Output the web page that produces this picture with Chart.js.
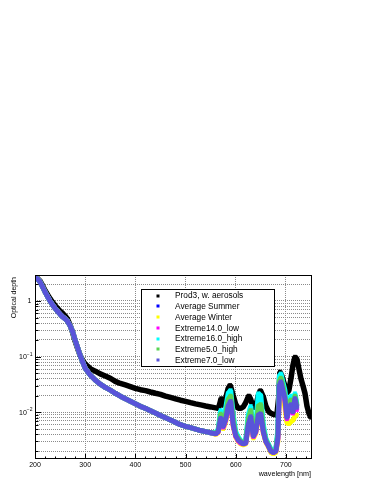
<!DOCTYPE html>
<html>
<head>
<meta charset="utf-8">
<script src="https://cdn.jsdelivr.net/npm/chart.js@4.4.0/dist/chart.umd.min.js"></script>
<style>
  html, body { margin: 0; padding: 0; background: #fff; }
  canvas { display: block; }
</style>
</head>
<body>
<canvas id="chart" width="374" height="484"></canvas>
<script>
// Optical depth vs wavelength

// smooth part, shared wavelength grid (nm)
const wlSmooth = [200,205,210,215,220,225,230,235,240,245,250,255,260,265,270,275,280,285,290,295,300,
  310,320,330,340,350,360,370,380,390,400,410,420,430,440,450,460,470,480,490,500,510,520,530,540,550];

// Prod3 with aerosols
const prodSmooth = [2.7,2.55,2.3,1.9,1.55,1.3,1.1,0.95,0.83,0.74,0.66,0.6,0.54,0.47,0.37,0.27,0.19,0.14,0.105,0.085,0.074,
  0.061,0.055,0.049,0.045,0.041,0.036,0.033,0.031,0.029,0.027,0.0255,0.0245,0.0232,0.022,0.021,0.0195,0.0185,0.0175,0.0165,0.0157,0.0149,0.0142,0.0136,0.013,0.0125];
const wlProdBand = [560,565,568,571,575,580,585,589,595,600,605,610,615,620,626,630,635,640,645,649,655,660,665,670,675,
  682,686,688,692,697,702,706,710,714,718,722,726,730,734,738,742,746,750];
const prodBand = [0.012,0.0118,0.014,0.018,0.013,0.018,0.027,0.031,0.02,0.014,0.0118,0.0118,0.0125,0.015,0.02,0.017,0.012,0.013,0.02,0.025,0.019,0.013,0.0105,0.0096,0.0092,
  0.0089,0.02,0.054,0.045,0.032,0.022,0.025,0.04,0.07,0.1,0.09,0.06,0.04,0.03,0.022,0.013,0.0095,0.008];

// atmosphere models (no aerosols) - they overlap below 560 nm
const atmSmooth = [2.6,2.5,2.2,1.8,1.45,1.2,1.0,0.85,0.74,0.65,0.58,0.52,0.48,0.43,0.36,0.28,0.2,0.145,0.105,0.08,0.062,
  0.047,0.038,0.032,0.028,0.025,0.022,0.0195,0.0175,0.0158,0.0142,0.0128,0.0118,0.0107,0.0097,0.0088,0.008,0.0073,0.0066,0.006,0.0056,0.0053,0.005,0.0047,0.0045,0.0043];

// absorption band region
const wlBand = [560,565,570,575,580,585,590,595,600,605,610,615,620,625,630,635,640,645,650,655,660,665,670,675,680,684,687,690,694,698,702,706,710,714,718,722];
const bandSummer = [0.0042,0.0046,0.0088,0.006,0.0085,0.015,0.018,0.007,0.004,0.0033,0.003,0.0028,0.0029,0.007,0.01,0.004,0.005,0.011,0.012,0.0048,0.0031,0.0026,0.0021,0.002,0.0021,0.004,0.034,0.04,0.028,0.019,0.009,0.013,0.016,0.011,0.019,0.013];
const bandWinter = [0.004,0.0043,0.007,0.005,0.0068,0.011,0.014,0.0055,0.0036,0.003,0.0027,0.0026,0.0027,0.0055,0.0075,0.0034,0.0042,0.0075,0.0085,0.0042,0.0029,0.0024,0.0019,0.0018,0.0019,0.003,0.022,0.028,0.02,0.012,0.0065,0.0062,0.0068,0.0072,0.0085,0.009];
const band14low = [0.0041,0.0044,0.0075,0.0053,0.0072,0.012,0.015,0.0058,0.0037,0.0031,0.0028,0.0027,0.0028,0.0058,0.008,0.0036,0.0044,0.0085,0.009,0.0044,0.003,0.0025,0.002,0.0019,0.002,0.0033,0.027,0.033,0.023,0.016,0.0075,0.011,0.012,0.0095,0.016,0.011];
const band16high = [0.0043,0.005,0.011,0.0075,0.012,0.022,0.025,0.009,0.0045,0.0036,0.0031,0.0029,0.0032,0.009,0.013,0.0045,0.006,0.022,0.02,0.006,0.0034,0.0027,0.0022,0.002,0.0022,0.005,0.045,0.05,0.035,0.025,0.012,0.016,0.02,0.013,0.022,0.014];
const band5high = [0.0042,0.0047,0.0095,0.0062,0.0095,0.017,0.02,0.0075,0.0041,0.0034,0.003,0.0028,0.003,0.0075,0.011,0.0041,0.0052,0.013,0.014,0.005,0.0032,0.0026,0.0021,0.002,0.0021,0.0042,0.036,0.042,0.03,0.02,0.01,0.014,0.017,0.012,0.02,0.013];
const band7low = [0.0041,0.0045,0.008,0.0055,0.0075,0.013,0.016,0.006,0.0038,0.0032,0.0029,0.0027,0.0028,0.006,0.0085,0.0037,0.0045,0.009,0.0095,0.0045,0.003,0.0025,0.002,0.0019,0.002,0.0035,0.03,0.036,0.025,0.018,0.008,0.012,0.014,0.01,0.018,0.012];

const labels = ['Prod3, w. aerosols','Average Summer','Average Winter','Extreme14.0_low','Extreme16.0_high','Extreme5.0_high','Extreme7.0_low'];
const colors = ['#000000','#0000ff','#ffff00','#ff00ff','#00ffff','#59d454','#5954d9'];

// axis
const xMin = 200, xMax = 752;
const yMin = 0.00145, yMax = 2.93;
const xLabels = [200,300,400,500,600,700];
const yMajor = [0.01, 0.1, 1];

function pts(xs, ys) {
  return xs.map((x, i) => ({ x: x, y: ys[i] }));
}

const seriesData = [
  pts(wlSmooth.concat(wlProdBand), prodSmooth.concat(prodBand)),
  pts(wlSmooth.concat(wlBand), atmSmooth.concat(bandSummer)),
  pts(wlSmooth.concat(wlBand), atmSmooth.concat(bandWinter)),
  pts(wlSmooth.concat(wlBand), atmSmooth.concat(band14low)),
  pts(wlSmooth.concat(wlBand), atmSmooth.concat(band16high)),
  pts(wlSmooth.concat(wlBand), atmSmooth.concat(band5high)),
  pts(wlSmooth.concat(wlBand), atmSmooth.concat(band7low)),
];

// log minor positions (for grid + ticks)
const yMinor = [];
[0.001, 0.01, 0.1, 1].forEach(d => {
  for (let k = 1; k <= 9; k++) {
    const v = d * k;
    if (v > yMin && v < yMax) yMinor.push(v);
  }
});

const FONT = '"Liberation Sans", Arial, sans-serif';

// ROOT-like frame, inner ticks, labels, legend
const rootDecor = {
  id: 'rootDecor',
  afterDatasetsDraw(chart) {
    const { ctx, chartArea: a, scales: { x, y } } = chart;
    ctx.save();

    // legend box
    const lx = 141, ly = 289, lw = 133, lh = 77;
    ctx.fillStyle = '#fff';
    ctx.fillRect(lx, ly, lw, lh);
    ctx.strokeStyle = '#000';
    ctx.lineWidth = 1;
    ctx.strokeRect(lx + 0.5, ly + 0.5, lw, lh);
    ctx.font = '8.3px ' + FONT;
    ctx.textAlign = 'left';
    ctx.textBaseline = 'middle';
    labels.forEach((lab, i) => {
      const ry = 295.7 + i * 10.75;
      ctx.fillStyle = colors[i];
      ctx.fillRect(156.5, Math.round(ry) - 1.5, 3, 3);
      ctx.fillStyle = '#000';
      ctx.fillText(lab, 175, ry + 0.5);
    });

    // frame
    ctx.strokeStyle = '#000';
    ctx.lineWidth = 1;
    ctx.strokeRect(a.left + 0.5, a.top + 0.5, a.right - a.left - 1, a.bottom - a.top - 1);

    // x ticks (inside)
    ctx.beginPath();
    for (let v = 200; v <= 750; v += 20) {
      const px = Math.round(x.getPixelForValue(v)) + 0.5;
      const len = v % 100 === 0 ? 5 : 2.5;
      ctx.moveTo(px, a.bottom);
      ctx.lineTo(px, a.bottom - len);
    }
    // y ticks (inside)
    yMinor.forEach(v => {
      const py = Math.round(y.getPixelForValue(v)) + 0.5;
      const len = yMajor.includes(Math.round(v * 1000) / 1000) ? 6 : 3.5;
      ctx.moveTo(a.left, py);
      ctx.lineTo(a.left + len, py);
    });
    ctx.stroke();

    // x tick labels
    ctx.fillStyle = '#000';
    ctx.font = '7px ' + FONT;
    ctx.textAlign = 'center';
    ctx.textBaseline = 'middle';
    xLabels.forEach(v => ctx.fillText(String(v), x.getPixelForValue(v), 465));

    // y tick labels
    const rx = 32.5;
    yMajor.forEach(v => {
      const py = y.getPixelForValue(v);
      if (v === 1) {
        ctx.font = '7px ' + FONT;
        ctx.textAlign = 'right';
        ctx.fillText('1', rx - 1, py + 0.5);
      } else {
        const exp = String(Math.round(Math.log10(v))).replace('-', '\u2212');
        ctx.font = '5px ' + FONT;
        const ew = ctx.measureText(exp).width;
        ctx.textAlign = 'left';
        ctx.fillText(exp, rx - ew, py - 2.5);
        ctx.font = '7px ' + FONT;
        ctx.textAlign = 'right';
        ctx.fillText('10', rx - ew, py + 0.5);
      }
    });

    // axis titles
    ctx.font = '7.2px ' + FONT;
    ctx.textAlign = 'right';
    ctx.textBaseline = 'middle';
    ctx.fillText('wavelength [nm]', 311, 474);
    ctx.translate(14, 277);
    ctx.rotate(-Math.PI / 2);
    ctx.font = '7px ' + FONT;
    ctx.fillText('Optical depth', 0, 0);
    ctx.restore();
  }
};

new Chart(document.getElementById('chart'), {
  type: 'scatter',
  data: {
    datasets: seriesData.map((d, i) => ({
      label: labels[i],
      data: d,
      showLine: true,
      borderColor: colors[i],
      backgroundColor: colors[i],
      borderWidth: i === 0 ? 5.5 : 5,
      borderJoinStyle: 'bevel',
      pointStyle: 'rect',
      pointRadius: 2.6,
      pointBorderWidth: 0,
      pointBackgroundColor: colors[i],
      order: labels.length - i
    }))
  },
  options: {
    responsive: false,
    animation: false,
    devicePixelRatio: 1,
    layout: { padding: { left: 35, top: 275, right: 62, bottom: 25 } },
    plugins: { legend: { display: false }, tooltip: { enabled: false } },
    scales: {
      x: {
        type: 'linear',
        min: xMin,
        max: xMax,
        afterBuildTicks: s => { s.ticks = [300, 400, 500, 600, 700].map(v => ({ value: v })); },
        ticks: { display: false },
        grid: { color: '#8a8a8a', lineWidth: 1, drawTicks: false },
        border: { display: false, dash: [1, 1] }
      },
      y: {
        type: 'logarithmic',
        min: yMin,
        max: yMax,
        afterBuildTicks: s => { s.ticks = yMinor.map(v => ({ value: v })); },
        ticks: { display: false },
        grid: { color: '#8a8a8a', lineWidth: 1, drawTicks: false },
        border: { display: false, dash: [1, 1] }
      }
    }
  },
  plugins: [rootDecor]
});
</script>
</body>
</html>
